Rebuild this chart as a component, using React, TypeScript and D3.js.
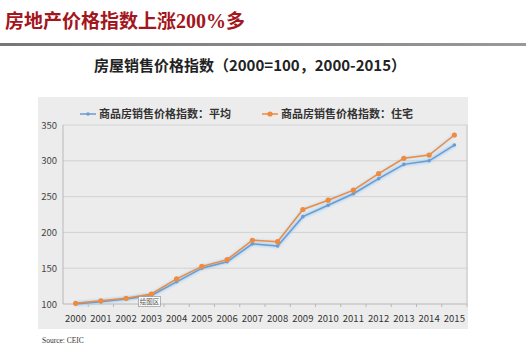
import React from "react";
import * as d3 from "d3";

const years = ["2000","2001","2002","2003","2004","2005","2006","2007","2008","2009","2010","2011","2012","2013","2014","2015"];
const avgIndex = [100, 103, 107, 112, 131, 150, 159, 184, 181, 222, 238, 254, 275, 295, 300, 322];
const resIndex = [101, 104.5, 108, 114, 135, 152.5, 162, 189, 187, 232, 245, 259, 282, 303.5, 308, 336];
const yTicks = [100, 150, 200, 250, 300, 350];
const seriesNames = ["商品房销售价格指数：平均", "商品房销售价格指数：住宅"];
const titleCjk = "房地产价格指数上涨";
const titleNum = "200%";
const titleEnd = "多";
const subTitle = "房屋销售价格指数（2000=100，2000-2015）";
const sourceText = "Source: CEIC";

const BLUE = "#6c9bd0";
const ORANGE = "#ef8a3e";

export default function App() {
  const W = 526, H = 356;
  const plot = { left: 63, right: 467, top: 125, bottom: 304 };
  const x = d3.scaleBand<string>().domain(years).range([plot.left, plot.right]);
  const cx = (y: string) => (x(y) as number) + x.bandwidth() / 2;
  const y = d3.scaleLinear().domain([100, 350]).range([plot.bottom, plot.top]);
  const line = d3.line<number>().x((_, i) => cx(years[i])).y((v) => y(v));
  const font = "'Noto Sans CJK SC', 'Noto Sans', sans-serif";
  const serif = "'Liberation Serif', 'DejaVu Serif', serif";

  return (
    <svg width={W} height={H} style={{ position: "absolute", left: 0, top: 0, background: "#fff" }}>
      <defs>
        <linearGradient id="rule" x1="0" x2="1" y1="0" y2="0">
          <stop offset="0" stopColor="#777" />
          <stop offset="1" stopColor="#999" />
        </linearGradient>
        <filter id="glow" x="-5%" y="-5%" width="110%" height="110%">
          <feGaussianBlur stdDeviation="1.2" />
        </filter>
      </defs>
      <text x={5} y={28} fontWeight={700} fontSize={19} fill="#a3161d" fontFamily={font}>
        <tspan fontFamily={font}>{titleCjk}</tspan>
        <tspan fontFamily={serif} fontSize={20}>{titleNum}</tspan>
        <tspan fontFamily={font}>{titleEnd}</tspan>
      </text>
      <rect x={0} y={43} width={W} height={3} fill="url(#rule)" />
      <text x={250} y={71} textAnchor="middle" fontFamily={font} fontWeight={700} fontSize={15} fill="#222">{subTitle}</text>

      <rect x={38} y={97} width={430} height={232} fill="#ececec" />
      {yTicks.map((t) => (
        <g key={t}>
          <line x1={plot.left} x2={plot.right} y1={y(t)} y2={y(t)} stroke={t === 100 ? "#b8b8b8" : "#d2d2d2"} strokeWidth={1} />
          <text x={57} y={y(t) + 3.5} textAnchor="end" fontFamily={font} fontSize={9.5} fill="#444">{t}</text>
        </g>
      ))}
      <line x1={plot.left} x2={plot.left} y1={plot.top} y2={plot.bottom} stroke="#b8b8b8" />
      <line x1={plot.right} x2={plot.right} y1={plot.top} y2={plot.bottom} stroke="#c4c4c4" />
      {years.map((yr) => (
        <g key={yr}>
          <line x1={(x(yr) as number) + x.bandwidth()} x2={(x(yr) as number) + x.bandwidth()} y1={plot.bottom} y2={plot.bottom + 3} stroke="#b8b8b8" />
          <text x={cx(yr)} y={322} textAnchor="middle" fontFamily={font} fontSize={9.5} fill="#333">{yr}</text>
        </g>
      ))}

      <path d={line(avgIndex) || ""} fill="none" stroke="#a9d2f3" strokeWidth={4} filter="url(#glow)" opacity={0.8} />
      <path d={line(resIndex) || ""} fill="none" stroke="#a9d2f3" strokeWidth={3} filter="url(#glow)" opacity={0.5} />

      <path d={line(avgIndex) || ""} fill="none" stroke={BLUE} strokeWidth={1.5} />
      {avgIndex.map((v, i) => (
        <circle key={"a" + i} cx={cx(years[i])} cy={y(v)} r={1.8} fill={BLUE} />
      ))}
      <path d={line(resIndex) || ""} fill="none" stroke={ORANGE} strokeWidth={1.5} />
      {resIndex.map((v, i) => (
        <circle key={"r" + i} cx={cx(years[i])} cy={y(v)} r={2.6} fill={ORANGE} />
      ))}

      <line x1={80} x2={96} y1={114} y2={114} stroke={BLUE} strokeWidth={1.5} />
      <circle cx={88} cy={114} r={1.8} fill={BLUE} />
      <text x={99} y={118} fontFamily={font} fontWeight={700} fontSize={11} fill="#333">{seriesNames[0]}</text>
      <line x1={262} x2={278} y1={114} y2={114} stroke={ORANGE} strokeWidth={1.5} />
      <circle cx={270} cy={114} r={2.6} fill={ORANGE} />
      <text x={281} y={118} fontFamily={font} fontWeight={700} fontSize={11} fill="#333">{seriesNames[1]}</text>

      <rect x={138.5} y={296.5} width={22} height={10} fill="#fafafa" stroke="#888" strokeWidth={0.6} />
      <text x={149.5} y={304} textAnchor="middle" fontFamily={font} fontSize={6.5} fill="#555">绘图区</text>

      <text x={42} y={343} fontFamily={serif} fontSize={7.5} fill="#333">{sourceText}</text>
    </svg>
  );
}
